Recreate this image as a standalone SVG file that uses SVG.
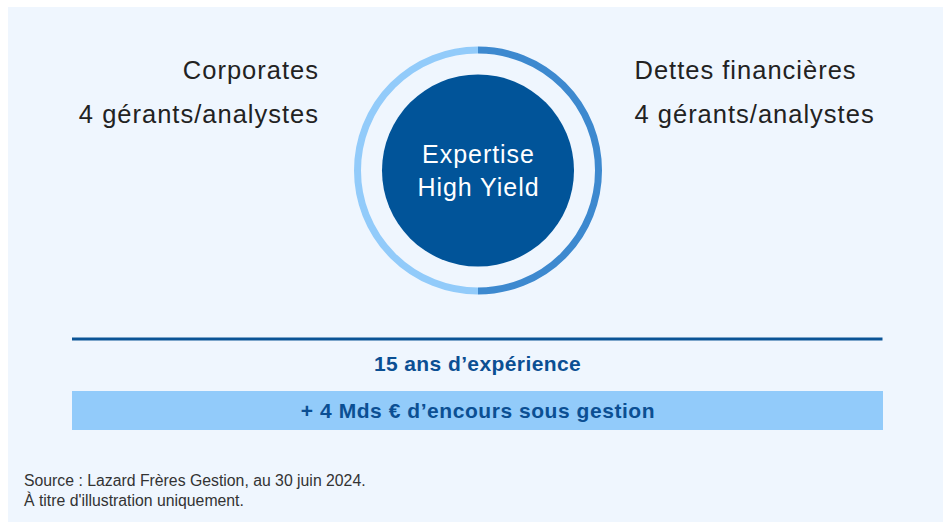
<svg xmlns="http://www.w3.org/2000/svg" width="952" height="522" viewBox="0 0 952 522">
  <style>
    .side { font-family: "Liberation Sans", Arial, sans-serif; font-size: 25.5px; fill: #222222; letter-spacing: 1px; }
    .core { font-family: "Liberation Sans", Arial, sans-serif; font-size: 25px; fill: #ffffff; letter-spacing: 0.95px; text-anchor: middle; }
    .stat { font-family: "Liberation Sans", Arial, sans-serif; font-size: 21px; font-weight: bold; fill: #0B4F93; text-anchor: middle; }
    .note { font-family: "Liberation Sans", Arial, sans-serif; font-size: 15.8px; fill: #333333; }
  </style>

  <!-- panel background -->
  <rect x="8" y="7" width="935" height="515" fill="#EFF6FE"/>

  <!-- central expertise badge -->
  <g id="expertise">
    <path d="M478,50 A120.5,120.5 0 0 0 478,291" fill="none" stroke="#92CBFA" stroke-width="7"/>
    <path d="M478,50 A120.5,120.5 0 0 1 478,291" fill="none" stroke="#3D89CF" stroke-width="7"/>
    <circle cx="478" cy="170.5" r="96" fill="#015499"/>
    <text class="core" x="478.5" y="163">Expertise</text>
    <text class="core" x="478.5" y="195.5">High Yield</text>
  </g>

  <!-- left team -->
  <g id="corporates">
    <text class="side" x="319" y="79" text-anchor="end">Corporates</text>
    <text class="side" x="319" y="122.7" text-anchor="end">4 gérants/analystes</text>
  </g>

  <!-- right team -->
  <g id="dettes-financieres">
    <text class="side" x="634.5" y="79">Dettes financières</text>
    <text class="side" x="634.5" y="122.7">4 gérants/analystes</text>
  </g>

  <!-- key figures -->
  <g id="connectors">
    <line x1="72" y1="339" x2="882.5" y2="339" stroke="#0B5496" stroke-width="3"/>
  </g>
  <g id="experience">
    <text class="stat" x="477.5" y="370.7" letter-spacing="0.4">15 ans d’expérience</text>
  </g>
  <g id="encours">
    <rect x="72" y="391" width="811" height="39" fill="#92CBFA"/>
    <text class="stat" x="478" y="418" letter-spacing="0.55">+ 4 Mds € d’encours sous gestion</text>
  </g>

  <!-- footnote -->
  <g id="source">
    <text class="note" x="24" y="486">Source : Lazard Frères Gestion, au 30 juin 2024.</text>
    <text class="note" x="24" y="505.7">À titre d'illustration uniquement.</text>
  </g>
</svg>
